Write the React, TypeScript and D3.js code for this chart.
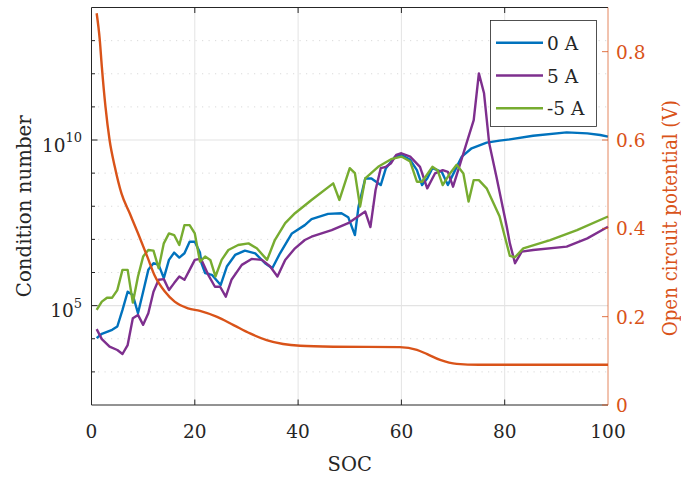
import React, { useEffect, useRef } from 'react';
import * as d3 from 'd3';

// condition number curves, stored as log10 values
const soc0 = [1, 2, 4, 5, 6, 7, 8, 9, 10, 11, 12, 13, 14, 15, 16, 17, 18, 19, 20, 21, 21.3, 22, 23.3, 25, 26.2, 27.8, 29.7, 31.7, 33.6, 35, 36.5, 38.8, 41.3, 42.6, 45.8, 48.4, 49.7, 51, 51.7, 53, 54.2, 56, 57, 58.8, 60, 61.7, 63, 64, 65, 66, 67.8, 69, 70.4, 71.7, 73.6, 76.5, 79, 81, 85.5, 92, 96, 98.5, 100];
const cond0 = [4.02, 4.15, 4.27, 4.37, 4.87, 5.42, 5.32, 4.77, 5.42, 6.08, 6.28, 6.23, 5.83, 6.38, 6.6, 6.45, 6.58, 6.93, 6.93, 6.6, 6.28, 5.98, 5.93, 5.62, 6.18, 6.53, 6.66, 6.58, 6.28, 6.13, 6.58, 7.18, 7.43, 7.61, 7.77, 7.79, 7.67, 7.13, 7.99, 8.84, 8.84, 8.64, 9.15, 9.5, 9.55, 9.4, 9.09, 8.64, 8.84, 9.15, 9.04, 8.64, 9.09, 9.5, 9.75, 9.92, 9.98, 10.02, 10.13, 10.23, 10.2, 10.15, 10.1];

const soc5 = [1, 2, 3.5, 5, 6, 7, 8, 9, 10, 11, 12, 13, 14, 15, 16, 17, 18, 19, 20, 21, 21.3, 22.6, 23.9, 24.9, 26, 27.1, 29.1, 31, 33, 34.6, 36, 37.5, 39.4, 41.3, 42.6, 46.5, 49.7, 53, 54, 55, 56, 57, 58, 59, 60, 61.7, 63.6, 65, 66.5, 68, 69, 70, 71, 72.6, 74, 75, 76, 77, 78.4, 80.4, 81, 82, 83.3, 85.5, 92, 96, 100];
const cond5 = [4.29, 3.99, 3.76, 3.66, 3.54, 3.81, 4.62, 4.72, 4.42, 4.77, 5.42, 5.78, 5.8, 5.47, 5.68, 5.88, 5.78, 6.08, 6.38, 6.41, 6.38, 5.93, 5.57, 5.57, 5.27, 5.78, 6.23, 6.41, 6.38, 6.18, 5.88, 6.38, 6.73, 6.98, 7.08, 7.28, 7.49, 7.84, 7.37, 8.49, 9.15, 9.19, 9.3, 9.55, 9.6, 9.5, 9.19, 8.54, 8.99, 9.09, 9.04, 8.59, 9.09, 9.9, 10.6, 12.01, 11.41, 9.9, 8.89, 7.38, 6.88, 6.28, 6.63, 6.68, 6.78, 7.03, 7.38];

const socM5 = [1, 2, 3, 4, 5, 6, 7, 8, 9, 10, 11, 12, 13, 14, 15, 16, 17, 18, 19, 20, 21, 22, 23, 24, 25.2, 26.5, 28.4, 30.4, 32, 34, 35.5, 37.5, 39.4, 42.6, 46.8, 48, 50, 51, 52, 53, 55.5, 58, 60, 61.7, 63, 64, 66, 67, 68, 69.4, 70.7, 72, 73, 74, 75, 76.5, 79, 81, 82, 83.6, 88.8, 94, 100];
const condM5 = [4.87, 5.12, 5.24, 5.24, 5.47, 6.08, 6.08, 5.09, 5.88, 6.48, 6.68, 6.66, 6.13, 6.88, 7.18, 7.13, 6.83, 7.43, 7.43, 7.18, 6.33, 6.48, 6.38, 5.88, 6.38, 6.68, 6.83, 6.88, 6.73, 6.38, 6.98, 7.49, 7.79, 8.19, 8.69, 8.19, 9.15, 9.0, 7.99, 8.84, 9.19, 9.42, 9.5, 9.35, 8.74, 8.74, 9.19, 9.09, 8.64, 8.99, 9.25, 8.99, 8.14, 8.79, 8.79, 8.54, 7.7, 6.5, 6.46, 6.73, 6.98, 7.28, 7.69];

// open circuit potential (V)
const socOcp = [1, 1.6, 2, 2.7, 3.5, 4.5, 5.8, 7.4, 9, 10.8, 12.2, 14.2, 16.1, 18.7, 21, 24.2, 27.5, 30.7, 33.9, 37.1, 40.4, 46.8, 59.7, 63, 65, 67.5, 70.7, 75, 100];
const ocp = [0.887, 0.827, 0.766, 0.676, 0.6, 0.54, 0.479, 0.434, 0.389, 0.336, 0.294, 0.257, 0.234, 0.219, 0.213, 0.2, 0.181, 0.162, 0.147, 0.138, 0.134, 0.132, 0.131, 0.125, 0.115, 0.102, 0.093, 0.091, 0.091];

const xTicks = [0, 20, 40, 60, 80, 100];
const leftTicks = [5, 10];
const rightTicks = [0, 0.2, 0.4, 0.6, 0.8];
const legendLabels = ['0 A', '5 A', '-5 A'];
const colors = ['#0072BD', '#7E2F8E', '#77AC30'];
const ocpColor = '#D95319';

const W = 681, H = 483;
const margin = { left: 91.5, right: 73, top: 7.5, bottom: 78 };
const font = 'DejaVu Serif, Liberation Serif, serif';
const fs = 18.5;
const ink = '#262626';

export default function App() {
  const ref = useRef<SVGSVGElement>(null);

  useEffect(() => {
    document.body.style.margin = '0';
    const svg = d3.select(ref.current);
    svg.selectAll('*').remove();

    const x0 = margin.left, x1 = W - margin.right;
    const y0 = H - margin.bottom, y1 = margin.top;

    const x = d3.scaleLinear().domain([0, 100]).range([x0, x1]);
    const y = d3.scaleLog().domain([1e2, 1e14]).range([y0, y1]);
    const yr = d3.scaleLinear().domain([0, 0.9]).range([y0, y1]);

    const g = svg.append('g');

    // grid
    xTicks.slice(1, -1).forEach(t => {
      g.append('line').attr('x1', x(t)).attr('x2', x(t)).attr('y1', y0).attr('y2', y1)
        .attr('stroke', '#e3e3e3').attr('stroke-width', 1);
    });
    d3.range(3, 14).forEach(e => {
      const major = e === 5 || e === 10;
      g.append('line').attr('x1', x0).attr('x2', x1)
        .attr('y1', y(Math.pow(10, e))).attr('y2', y(Math.pow(10, e)))
        .attr('stroke', major ? '#e3e3e3' : '#d0d0d0')
        .attr('stroke-width', major ? 1.2 : 0.8)
        .attr('stroke-dasharray', major ? null : '1.2,5.3');
    });

    // curves
    const line = d3.line<[number, number]>()
      .x(d => x(d[0]))
      .y(d => y(Math.pow(10, d[1])));
    const series = [[soc0, cond0], [soc5, cond5], [socM5, condM5]];
    series.forEach(([s, c], i) => {
      g.append('path')
        .datum(s.map((v, j) => [v, c[j]] as [number, number]))
        .attr('d', line)
        .attr('fill', 'none')
        .attr('stroke', colors[i])
        .attr('stroke-width', 2.4)
        .attr('stroke-linejoin', 'round');
    });

    const ocpLine = d3.line<[number, number]>()
      .x(d => x(d[0]))
      .y(d => yr(d[1]))
      .curve(d3.curveMonotoneX);
    g.append('path')
      .datum(socOcp.map((v, j) => [v, ocp[j]] as [number, number]))
      .attr('d', ocpLine)
      .attr('fill', 'none')
      .attr('stroke', ocpColor)
      .attr('stroke-width', 2.4);

    // axes box
    g.append('line').attr('x1', x0).attr('x2', x1).attr('y1', y0).attr('y2', y0).attr('stroke', ink);
    g.append('line').attr('x1', x0).attr('x2', x1).attr('y1', y1).attr('y2', y1).attr('stroke', ink);
    g.append('line').attr('x1', x0).attr('x2', x0).attr('y1', y0).attr('y2', y1).attr('stroke', ink);
    g.append('line').attr('x1', x1).attr('x2', x1).attr('y1', y0).attr('y2', y1)
      .attr('stroke', ocpColor).attr('stroke-opacity', 0.7);

    // x ticks
    xTicks.forEach(t => {
      if (t > 0 && t < 100) {
        g.append('line').attr('x1', x(t)).attr('x2', x(t)).attr('y1', y0).attr('y2', y0 - 5.5).attr('stroke', ink);
        g.append('line').attr('x1', x(t)).attr('x2', x(t)).attr('y1', y1).attr('y2', y1 + 5.5).attr('stroke', ink);
      }
      g.append('text').attr('x', x(t)).attr('y', 438)
        .attr('text-anchor', 'middle').attr('font-family', font).attr('font-size', fs)
        .attr('fill', ink).text(t);
    });

    // left ticks
    d3.range(3, 14).forEach(e => {
      const major = e === 5 || e === 10;
      const yy = y(Math.pow(10, e));
      g.append('line').attr('x1', x0).attr('x2', x0 + (major ? 6 : 3.5)).attr('y1', yy).attr('y2', yy).attr('stroke', ink);
    });
    leftTicks.forEach(e => {
      const yy = y(Math.pow(10, e));
      const t = g.append('text').attr('x', 82).attr('y', yy + 11.7)
        .attr('text-anchor', 'end').attr('font-family', font).attr('font-size', fs).attr('fill', ink);
      t.append('tspan').text('10');
      t.append('tspan').attr('dy', -9.5).attr('font-size', 13).text(e);
    });

    // right ticks
    rightTicks.forEach(v => {
      g.append('line').attr('x1', x1).attr('x2', x1 - 6).attr('y1', yr(v)).attr('y2', yr(v))
        .attr('stroke', ocpColor).attr('stroke-opacity', 0.8);
      g.append('text').attr('x', 616).attr('y', yr(v) + 7)
        .attr('font-family', font).attr('font-size', fs).attr('fill', ocpColor).text(v);
    });

    // axis titles
    g.append('text').attr('x', (x0 + x1) / 2).attr('y', 471)
      .attr('text-anchor', 'middle').attr('font-family', font).attr('font-size', 19.5)
      .attr('fill', ink).text('SOC');
    g.append('text')
      .attr('transform', `translate(31, ${(y0 + y1) / 2}) rotate(-90)`)
      .attr('text-anchor', 'middle').attr('font-family', font).attr('font-size', 19.5)
      .attr('textLength', 182).attr('lengthAdjust', 'spacingAndGlyphs')
      .attr('fill', ink).text('Condition number');
    g.append('text')
      .attr('transform', `translate(677, ${(y0 + y1) / 2 + 12}) rotate(-90)`)
      .attr('text-anchor', 'middle').attr('font-family', font).attr('font-size', 19.5)
      .attr('textLength', 236).attr('lengthAdjust', 'spacingAndGlyphs')
      .attr('fill', ocpColor).text('Open circuit potential (V)');

    // legend
    const lg = g.append('g');
    lg.append('rect').attr('x', 490.5).attr('y', 20.5).attr('width', 106).attr('height', 106)
      .attr('fill', 'white').attr('stroke', ink).attr('stroke-width', 0.8);
    legendLabels.forEach((lab, i) => {
      const ly = 42.7 + i * 32.8;
      lg.append('line').attr('x1', 496).attr('x2', 543).attr('y1', ly).attr('y2', ly)
        .attr('stroke', colors[i]).attr('stroke-width', 2.4);
      lg.append('text').attr('x', 547).attr('y', ly + 7)
        .attr('font-family', font).attr('font-size', fs).attr('fill', ink)
        .text(lab.replace(' ', '\u00a0'));
    });
  }, []);

  return <svg ref={ref} width={W} height={H} style={{ display: 'block' }} />;
}
